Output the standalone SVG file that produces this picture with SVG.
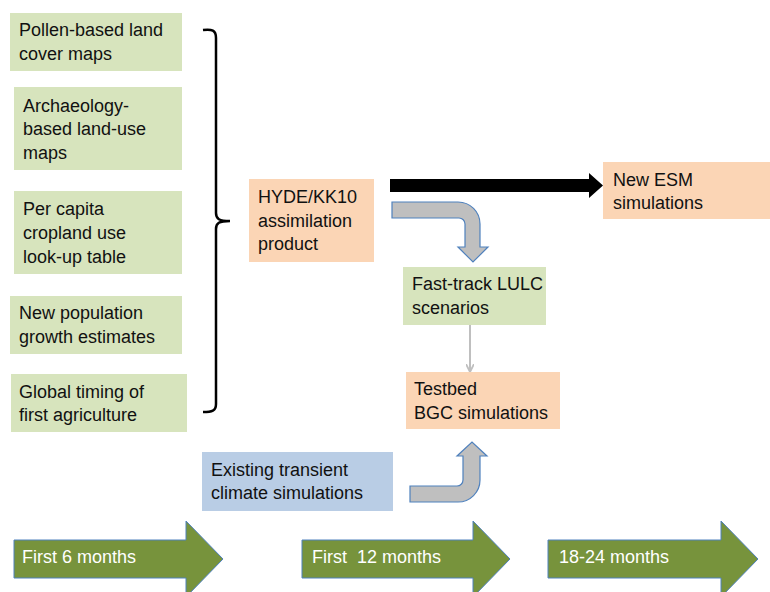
<svg xmlns="http://www.w3.org/2000/svg" width="770" height="592" viewBox="0 0 770 592">
<style>
text{font-family:"Liberation Sans",Arial,sans-serif;font-size:18px;fill:#111}
.g{fill:#D7E4BD}.o{fill:#FBD5B5}.b{fill:#B9CDE5}
.tl{fill:#77933C;stroke:#4F81BD;stroke-width:1}
.tl-t{fill:#fff;white-space:pre}
.bent{fill:#BFBFBF;stroke:#4F81BD;stroke-width:1.2}
</style>
<defs>
<marker id="ga" markerWidth="8" markerHeight="8" refX="7" refY="4" orient="auto" markerUnits="userSpaceOnUse"><path d="M0,0 L8,4 L0,8" fill="none" stroke="#BFBFBF" stroke-width="1.8"/></marker>
</defs>
<rect width="770" height="592" fill="#fff"/>
<g id="pollen"><rect class="g" x="10" y="13" width="172" height="58"/><text x="19" y="36">Pollen-based land</text><text x="19" y="60">cover maps</text></g>
<g id="archaeology"><rect class="g" x="14" y="87" width="168" height="83"/><text x="23" y="112">Archaeology-</text><text x="23" y="135">based land-use</text><text x="23" y="159">maps</text></g>
<g id="percapita"><rect class="g" x="14" y="191" width="168" height="83"/><text x="23" y="215">Per capita</text><text x="23" y="239">cropland use</text><text x="23" y="263">look-up table</text></g>
<g id="population"><rect class="g" x="10" y="296" width="172" height="58"/><text x="19" y="319">New population</text><text x="19" y="343">growth estimates</text></g>
<g id="timing"><rect class="g" x="11" y="374" width="176" height="58"/><text x="19" y="398">Global timing of</text><text x="19" y="421">first agriculture</text></g>
<g id="hyde"><rect class="o" x="249" y="179" width="125" height="83"/><text x="258" y="203">HYDE/KK10</text><text x="258" y="227">assimilation</text><text x="258" y="250">product</text></g>
<g id="esm"><rect class="o" x="603" y="162" width="167" height="57"/><text x="613" y="186">New ESM</text><text x="613" y="209">simulations</text></g>
<g id="fasttrack"><rect class="g" x="403" y="267" width="143" height="58"/><text x="412" y="290">Fast-track LULC</text><text x="412" y="314">scenarios</text></g>
<g id="testbed"><rect class="o" x="406" y="372" width="154" height="57"/><text x="414" y="395">Testbed</text><text x="414" y="419">BGC simulations</text></g>
<g id="climate"><rect class="b" x="202" y="452" width="191" height="59"/><text x="211" y="476">Existing transient</text><text x="211" y="499">climate simulations</text></g>
<g id="connectors">
<path d="M203,30 C212,29 216,30 216,38 L216,213 C216,219 219,221 230,221 C219,221 216,223 216,229 L216,404 C216,411 212,412 203,412" fill="none" stroke="#000" stroke-width="2.5"/>
<path d="M390,179 L589,179 L589,173 L603,185.5 L589,198 L589,192 L390,192 Z" fill="#000"/>
<path class="bent" d="M392,202 L458,202 A22,22 0 0 1 480,224 L480,247 L488,247 L473,262 L458,247 L465,247 L465,224 A6,6 0 0 0 459,218 L392,218 Z"/>
<line x1="470" y1="325" x2="470" y2="371" stroke="#BFBFBF" stroke-width="2" marker-end="url(#ga)"/>
<path class="bent" d="M410,486 L457,486 A6,6 0 0 0 463,480 L463,456 L457,456 L472,442 L487,456 L480,456 L480,480 A22,22 0 0 1 458,502 L410,502 Z"/>
</g>
<g id="timeline1"><path class="tl" d="M14,540 L186,540 L186,521 L223,559 L186,597 L186,578 L14,578 Z"/><text class="tl-t" x="22" y="563">First 6 months</text></g>
<g id="timeline2"><path class="tl" d="M302,540 L473,540 L473,521 L510,559 L473,597 L473,578 L302,578 Z"/><text class="tl-t" x="312" y="563">First  12 months</text></g>
<g id="timeline3"><path class="tl" d="M548,540 L721,540 L721,521 L758,559 L721,597 L721,578 L548,578 Z"/><text class="tl-t" x="559" y="563">18-24 months</text></g>
</svg>
